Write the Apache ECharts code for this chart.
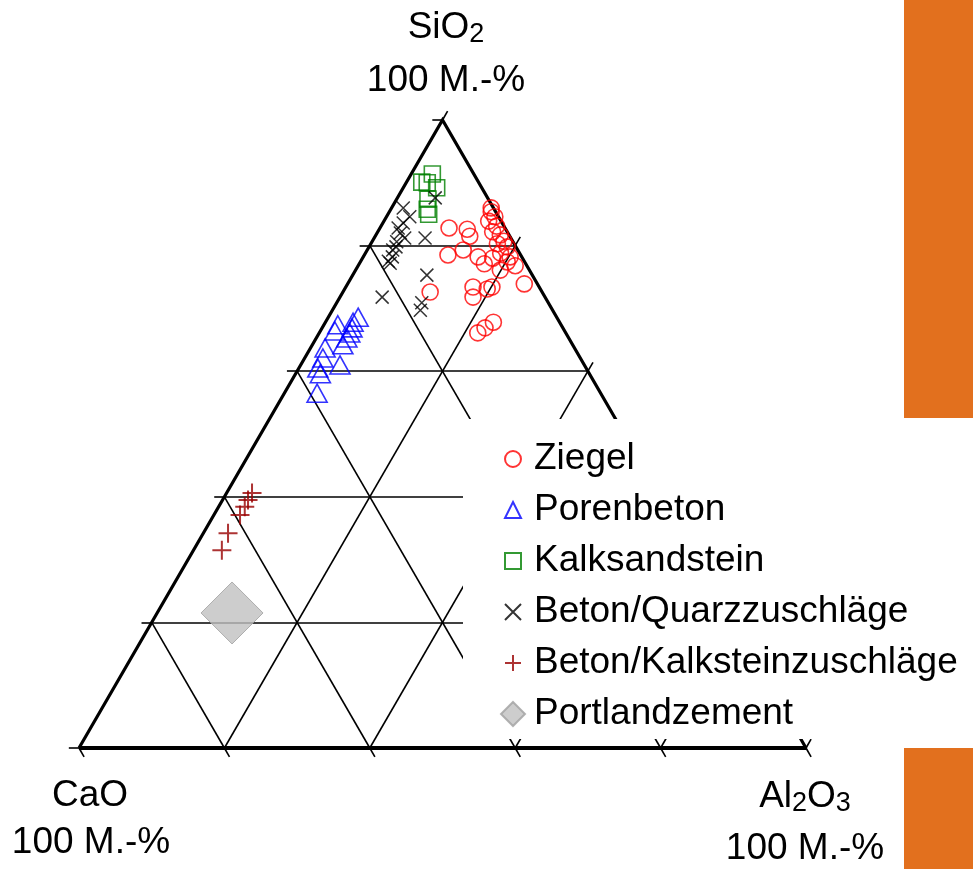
<!DOCTYPE html>
<html>
<head>
<meta charset="utf-8">
<script src="https://cdn.jsdelivr.net/npm/echarts@6/dist/echarts.min.js"></script>
<style>
  html, body { margin: 0; padding: 0; background: #fff; }
  #chart { width: 973px; height: 869px; }
</style>
</head>
<body>
<div id="chart"></div>
<script>
// Compositions in mass-% as [SiO2, CaO, Al2O3]
const ziegel = [
  [86.0, 0.3, 13.7], [85.4, 0.6, 14.0], [84.6, 0.5, 14.9], [83.9, 1.7, 14.4],
  [83.1, 1.0, 15.9], [82.2, 2.0, 15.8], [81.7, 1.2, 17.1], [80.7, 1.2, 18.1],
  [80.3, 2.3, 17.4], [79.8, 1.2, 19.0], [78.8, 2.6, 18.6], [78.2, 1.6, 20.2],
  [78.0, 4.1, 17.9], [77.4, 2.4, 20.2], [76.8, 1.6, 21.6], [76.1, 4.0, 19.9],
  [73.9, 1.8, 24.3], [82.8, 7.7, 9.5], [82.6, 5.3, 12.1], [81.5, 5.5, 13.0],
  [78.5, 10.0, 11.5], [79.3, 7.5, 13.2], [78.2, 6.0, 15.8], [77.1, 5.7, 17.2],
  [73.4, 9.1, 17.5], [71.8, 9.9, 18.3], [73.1, 7.3, 19.6], [73.4, 6.5, 20.1],
  [72.6, 15.4, 12.0], [66.1, 12.1, 21.8], [66.9, 10.7, 22.4], [67.8, 9.1, 23.1]
];
const porenbeton = [
  [68.6, 27.3, 4.1], [67.8, 28.4, 3.8], [67.4, 30.7, 1.9], [66.9, 29.0, 4.1],
  [66.1, 29.7, 4.2], [66.4, 31.6, 2.0], [65.3, 30.5, 4.2], [63.7, 34.3, 2.0],
  [64.2, 31.6, 4.2], [62.1, 35.4, 2.5], [61.0, 33.6, 5.4], [60.5, 36.9, 2.6],
  [59.6, 37.0, 3.4], [56.5, 39.0, 4.5]
];
const kalksandstein = [
  [90.1, 7.8, 2.1], [91.4, 5.7, 2.9], [90.0, 7.1, 2.9], [89.2, 6.2, 4.6],
  [87.4, 8.3, 4.3], [85.8, 9.2, 5.0], [85.0, 9.4, 5.6]
];
const betonQuarz = [
  [86.0, 12.4, 1.6], [84.6, 12.2, 3.2], [83.6, 13.6, 2.8], [82.8, 14.7, 2.5],
  [82.0, 14.8, 3.2], [81.2, 14.6, 4.2], [80.6, 16.0, 3.4], [79.8, 16.5, 3.7],
  [79.3, 17.2, 3.5], [78.2, 17.8, 4.0], [77.5, 18.7, 3.8], [77.2, 18.6, 4.2],
  [81.2, 11.8, 7.0], [87.6, 7.2, 5.2], [75.3, 14.5, 10.2], [71.8, 22.4, 5.8],
  [70.9, 17.4, 11.7], [69.7, 18.2, 12.1]
];
const betonKalkstein = [
  [40.6, 55.9, 3.5], [39.5, 57.0, 3.5], [38.4, 58.0, 3.6], [37.1, 59.3, 3.6],
  [34.2, 62.4, 3.4], [31.5, 64.6, 3.9]
];
const portlandzement = [[21.5, 68.2, 10.3]];

const seriesNames = ['Ziegel', 'Porenbeton', 'Kalksandstein',
  'Beton/Quarzzuschläge', 'Beton/Kalksteinzuschläge', 'Portlandzement'];
const gridLevels = [20, 40, 60, 80];
const tickLevels = [0, 20, 40, 60, 80, 100];
const tickExt = 1.4; // tick length beyond the edge, in % units

// Ternary composition -> cartesian (x = Al2O3 + SiO2/2, y = SiO2)
function tern(si, ca, al) {
  const s = si + ca + al;
  return [(al + si / 2) * 100 / s, si * 100 / s];
}
const toXY = arr => arr.map(p => tern(p[0], p[1], p[2]));

// Inner grid lines
const gridLines = [];
gridLevels.forEach(v => {
  gridLines.push({ coords: [tern(v, 100 - v, 0), tern(v, 0, 100 - v)] });      // SiO2 = v
  gridLines.push({ coords: [tern(0, v, 100 - v), tern(100 - v, v, 0)] });      // CaO = v
  gridLines.push({ coords: [tern(0, 100 - v, v), tern(100 - v, 0, v)] });      // Al2O3 = v
});
// Ticks outside each edge
const ticks = [];
tickLevels.forEach(v => {
  ticks.push({ coords: [tern(v, 100 - v, 0), tern(v, 100 - v + tickExt, -tickExt)] });
  ticks.push({ coords: [tern(0, v, 100 - v), tern(-tickExt, v, 100 - v + tickExt)] });
  ticks.push({ coords: [tern(100 - v, 0, v), tern(100 - v + tickExt, -tickExt, v)] });
});
const sides = [{ coords: [tern(0, 100, 0), tern(100, 0, 0), tern(0, 0, 100)] }];
const base = [{ coords: [tern(0, 100, 0), tern(0, 0, 100)] }];

const FONT = '"Liberation Sans", Arial, sans-serif';
const FS = 37;
const crossPath = 'path://M0,0L10,10M10,0L0,10';
const plusPath = 'path://M5,0L5,10M0,5L10,5';

function scatter(name, data, symbol, size, style) {
  return {
    name: name, type: 'scatter', data: toXY(data), symbol: symbol, symbolSize: size,
    itemStyle: style, emphasis: { disabled: true }, silent: true, z: 5
  };
}
function plainText(x, y, text) {
  return { type: 'text', x: x, y: y, style: { text: text, align: 'center', verticalAlign: 'middle', font: FS + 'px ' + FONT, fill: '#000' } };
}
function subText(x, y, text) {
  return { type: 'text', x: x, y: y, style: {
    text: text, align: 'center', verticalAlign: 'middle',
    font: FS + 'px ' + FONT, fill: '#000', lineHeight: 40,
    rich: { sub: { fontSize: 27, fontFamily: FONT, lineHeight: 18, verticalAlign: 'bottom' } } } };
}

const chart = echarts.init(document.getElementById('chart'), null, { renderer: 'canvas' });
chart.setOption({
  animation: false,
  backgroundColor: '#fff',
  grid: { left: 79, right: 167, top: 120, bottom: 121 },
  xAxis: { type: 'value', min: 0, max: 100, show: false },
  yAxis: { type: 'value', min: 0, max: 100, show: false },
  legend: [{
    data: seriesNames.slice(0, 5),
    orient: 'vertical', left: 463, top: 419,
    padding: [20, 20, 56, 41],
    backgroundColor: '#fff',
    itemWidth: 16, itemHeight: 16, itemGap: 11,
    selectedMode: false,
    textStyle: { fontSize: FS, fontFamily: FONT, color: '#000', lineHeight: 40, padding: [0, 0, 0, 8] }
  }, {
    data: [seriesNames[5]],
    orient: 'vertical', left: 500, top: 694,
    padding: 0,
    itemWidth: 24, itemHeight: 24,
    selectedMode: false,
    textStyle: { fontSize: FS, fontFamily: FONT, color: '#000', lineHeight: 40, padding: [0, 0, 0, 4] }
  }],
  graphic: [
    { type: 'rect', shape: { x: 904, y: 0, width: 69, height: 418 }, style: { fill: '#E2701E' } },
    { type: 'rect', shape: { x: 904, y: 748, width: 69, height: 121 }, style: { fill: '#E2701E' } },
    subText(446, 28, 'SiO{sub|2}'),
    plainText(446, 81, '100 M.-%'),
    plainText(90, 796, 'CaO'),
    plainText(91, 843, '100 M.-%'),
    subText(805, 797, 'Al{sub|2}O{sub|3}'),
    plainText(805, 849, '100 M.-%')
  ],
  series: [
    { type: 'lines', coordinateSystem: 'cartesian2d', data: gridLines, silent: true, clip: false, z: 2,
      lineStyle: { color: '#000', width: 1.6, opacity: 1, curveness: 0 } },
    { type: 'lines', coordinateSystem: 'cartesian2d', data: ticks, silent: true, clip: false, z: 2,
      lineStyle: { color: '#000', width: 1.6, opacity: 1, curveness: 0 } },
    { type: 'lines', coordinateSystem: 'cartesian2d', polyline: true, data: sides, silent: true, clip: false, z: 3,
      lineStyle: { color: '#000', width: 3.2, opacity: 1, curveness: 0, join: 'miter' } },
    { type: 'lines', coordinateSystem: 'cartesian2d', data: base, silent: true, clip: false, z: 3,
      lineStyle: { color: '#000', width: 4, opacity: 1, curveness: 0 } },
    scatter('Ziegel', ziegel, 'circle', 16, { color: 'transparent', borderColor: '#FF0000', borderWidth: 1.6 }),
    scatter('Porenbeton', porenbeton, 'triangle', [20, 18], { color: 'transparent', borderColor: '#0000FF', borderWidth: 1.6 }),
    scatter('Kalksandstein', kalksandstein, 'rect', 16, { color: 'transparent', borderColor: '#008000', borderWidth: 1.6 }),
    scatter('Beton/Quarzzuschläge', betonQuarz, crossPath, 13, { color: 'transparent', borderColor: '#000', borderWidth: 1.5 }),
    scatter('Beton/Kalksteinzuschläge', betonKalkstein, plusPath, 19, { color: 'transparent', borderColor: '#990000', borderWidth: 2 }),
    scatter('Portlandzement', portlandzement, 'diamond', 62, { color: '#C0C0C0', borderColor: '#A0A0A0', borderWidth: 1 })
  ]
});
</script>
</body>
</html>
